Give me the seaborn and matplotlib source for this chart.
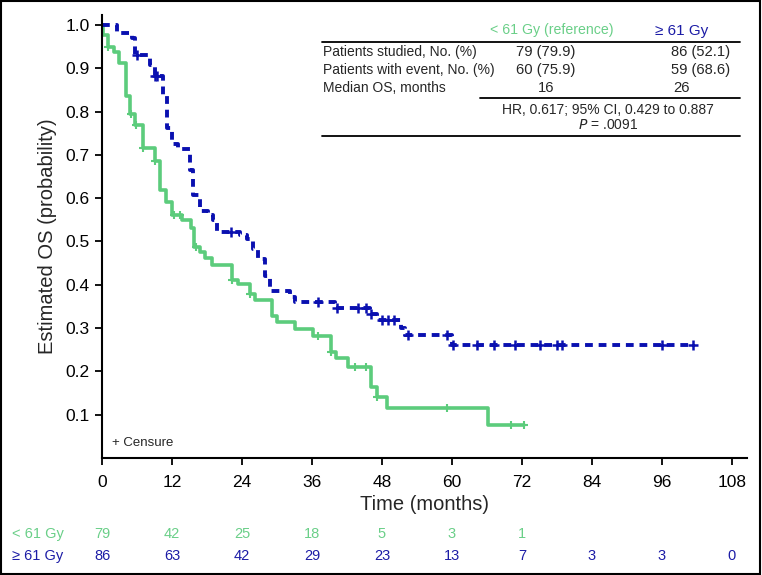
import numpy as np
import matplotlib
matplotlib.use('Agg')
import matplotlib.pyplot as plt
import matplotlib.transforms as mtransforms
import seaborn as sns
from matplotlib.lines import Line2D
from matplotlib.patches import Rectangle

# Kaplan-Meier steps (months, survival)
times_lo = [0, 0.1, 1.1, 2.1, 2.9, 4.1, 4.8, 5.7, 7.0, 9.1, 10.0, 10.9, 12.0, 13.7,
            15.3, 15.8, 16.8, 17.7, 18.9, 22.3, 23.4, 25.4, 26.3, 29.2, 30.0, 33.1,
            36.2, 39.3, 40.2, 42.2, 46.2, 47.2, 48.8, 66.2, 72.3]
surv_lo = [1.0, 0.977, 0.949, 0.938, 0.912, 0.835, 0.794, 0.770, 0.716, 0.687, 0.618,
           0.591, 0.562, 0.550, 0.532, 0.487, 0.475, 0.463, 0.445, 0.410, 0.401, 0.378,
           0.365, 0.329, 0.315, 0.297, 0.282, 0.245, 0.230, 0.209, 0.163, 0.140, 0.115,
           0.076, 0.076]
cens_lo = [1.1, 4.9, 5.8, 7.0, 9.1, 12.3, 13.3, 16.1, 22.3, 25.4, 37.0, 39.3, 43.3,
           45.3, 47.2, 59.1, 70.2, 72.3]

times_hi = [0, 2.5, 5.1, 5.7, 8.2, 9.1, 10.5, 11.2, 12.0, 13.0, 15.1, 15.6, 16.8, 18.2,
            19.1, 19.7, 23.7, 24.9, 25.9, 26.8, 28.0, 28.8, 32.3, 33.1, 40.0, 46.0,
            47.2, 51.2, 52.0, 60.1, 101.3]
surv_hi = [1.0, 0.981, 0.969, 0.931, 0.908, 0.882, 0.835, 0.763, 0.726, 0.714, 0.666,
           0.608, 0.570, 0.562, 0.550, 0.522, 0.516, 0.505, 0.482, 0.459, 0.420, 0.385,
           0.372, 0.360, 0.346, 0.333, 0.319, 0.300, 0.283, 0.261, 0.261]
cens_hi = [6.0, 9.1, 9.5, 22.2, 37.1, 40.3, 43.9, 45.3, 46.1, 48.0, 49.1, 50.1, 52.4,
           59.2, 60.2, 64.3, 67.2, 70.9, 75.1, 78.1, 78.9, 96.1, 101.3]

risk_times = [0, 12, 24, 36, 48, 60, 72, 84, 96, 108]
risk_lo = [79, 42, 25, 18, 5, 3, 1]
risk_hi = [86, 63, 42, 29, 23, 13, 7, 3, 3, 0]

rows = ['Patients studied, No. (%)', 'Patients with event, No. (%)', 'Median OS, months']
col_lo = ['79 (79.9)', '60 (75.9)', '16']
col_hi = ['86 (52.1)', '59 (68.6)', '26']

GREEN = '#5ccc7c'
BLUE = '#0a10b0'
GREEN_TXT = '#6acf88'
BLUE_TXT = '#1c1ca6'

sns.set_style('ticks')
plt.rcParams['font.family'] = ['Liberation Sans', 'DejaVu Sans']

W, H = 762, 575
fig = plt.figure(figsize=(W / 100, H / 100), dpi=100)
ax = fig.add_axes([102 / W, 1 - 458 / H, (747 - 102) / W, (458 - 15) / H])


def fy(y):
    return 1 - y / H


def surv_at(times, surv, t):
    idx = np.searchsorted(times, t, side='right') - 1
    return np.array(surv)[idx]


# curves
sns.lineplot(x=times_lo, y=surv_lo, ax=ax, drawstyle='steps-post', estimator=None,
             sort=False, color=GREEN, lw=2.6)
sns.lineplot(x=times_hi, y=surv_hi, ax=ax, drawstyle='steps-post', estimator=None,
             sort=False, color=BLUE, lw=2.8, linestyle=(0, (2.0, 1.5)))

# censor marks
sns.scatterplot(x=cens_lo, y=surv_at(times_lo, surv_lo, cens_lo), ax=ax, marker='+',
                s=40, color=GREEN, linewidth=1.5, zorder=5)
sns.scatterplot(x=cens_hi, y=surv_at(times_hi, surv_hi, cens_hi), ax=ax, marker='+',
                s=45, color=BLUE, linewidth=1.8, zorder=5)

ax.set_xlim(0, 110.6)
ax.set_ylim(0, 1.023)
ax.set_xticks(risk_times)
yt = np.arange(1, 11) / 10
ax.set_yticks(yt)
ax.set_yticklabels([f'{v:.1f}' for v in yt])
ax.tick_params(axis='both', labelsize=12.5, length=5, width=1.3, color='black',
               labelcolor='black', pad=4)
ax.tick_params(axis='x', pad=7)
for side in ['top', 'right']:
    ax.spines[side].set_visible(False)
for side in ['left', 'bottom']:
    ax.spines[side].set_linewidth(1.5)
    ax.spines[side].set_color('black')
ax.set_xlabel('Time (months)', fontsize=14.5, labelpad=4)
ax.set_ylabel('Estimated OS (probability)', fontsize=14.5, labelpad=6)
fig.text(112 / W, fy(443), '+ Censure', fontsize=9.5, va='center', ha='left')

# numbers at risk
risk_tr = mtransforms.blended_transform_factory(ax.transData, fig.transFigure)
fig.text(12 / W, fy(534), '< 61 Gy', color=GREEN_TXT, fontsize=10.5, va='center')
fig.text(12 / W, fy(556), '\u2265 61 Gy', color=BLUE_TXT, fontsize=10.5, va='center')
for t, n in zip(risk_times, risk_lo):
    ax.text(t, fy(534), str(n), transform=risk_tr, color=GREEN_TXT,
            fontsize=10.5, ha='center', va='center')
for t, n in zip(risk_times, risk_hi):
    ax.text(t, fy(556), str(n), transform=risk_tr, color=BLUE_TXT,
            fontsize=10.5, ha='center', va='center')

# summary table
fig.text(552 / W, fy(30), '< 61 Gy (reference)', color=GREEN_TXT, fontsize=10.2,
         ha='center', va='center')
fig.text(682 / W, fy(31), '\u2265 61 Gy', color=BLUE_TXT, fontsize=11,
         ha='center', va='center')
hi_x = [701, 701, 681]
for i, (r, a, b) in enumerate(zip(rows, col_lo, col_hi)):
    y = fy(52 + i * 17.8)
    fig.text(323 / W, y, r, fontsize=10, ha='left', va='center')
    fig.text(546 / W, y, a, fontsize=10.6, ha='center', va='center')
    fig.text(hi_x[i] / W, y, b, fontsize=10.6, ha='center', va='center')
fig.text(608 / W, fy(110), 'HR, 0.617; 95% CI, 0.429 to 0.887', fontsize=10,
         ha='center', va='center')
fig.text(608 / W, fy(125), '$\\it{P}$ = .0091', fontsize=10, ha='center', va='center')
for x0, yy in [(322, 41.5), (480, 97.5), (322, 136)]:
    fig.add_artist(Line2D([x0 / W, 740 / W], [fy(yy), fy(yy)], color='black', lw=1.3))

# outer frame
fig.add_artist(Rectangle((0.001, 0.001), 0.997, 0.997, transform=fig.transFigure,
                         fill=False, edgecolor='black', lw=1.5))

fig.savefig('out.png', dpi=100)
